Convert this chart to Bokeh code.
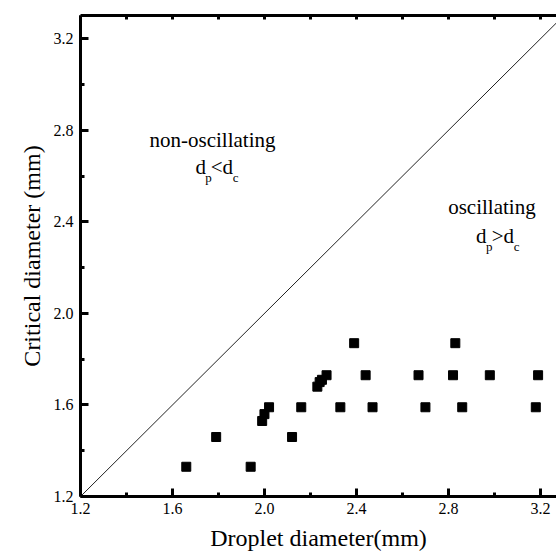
from bokeh.plotting import figure
from bokeh.models import LinearAxis, FixedTicker, Label, Range1d
from bokeh.embed import file_html
from bokeh.resources import INLINE

# data
droplet_d = [1.66, 1.79, 1.94, 1.99, 2.00, 2.02, 2.12, 2.16, 2.23, 2.24, 2.25, 2.27,
             2.33, 2.39, 2.44, 2.47, 2.67, 2.70, 2.82, 2.83, 2.86, 2.98, 3.18, 3.19]
critical_d = [1.33, 1.46, 1.33, 1.53, 1.56, 1.59, 1.46, 1.59, 1.68, 1.70, 1.71, 1.73,
              1.59, 1.87, 1.73, 1.59, 1.73, 1.59, 1.73, 1.87, 1.59, 1.73, 1.59, 1.73]
diag_x = [1.2, 3.3]
diag_y = [1.2, 3.3]
major_ticks = [1.2, 1.6, 2.0, 2.4, 2.8, 3.2]
minor_ticks = [1.4, 1.8, 2.2, 2.6, 3.0]
tick_labels = ["1.2", "1.6", "2.0", "2.4", "2.8", "3.2"]

FONT = "Liberation Serif"

p = figure(width=556, height=560, output_backend="svg", toolbar_location=None,
           x_range=Range1d(1.2, 3.27), y_range=Range1d(1.2, 3.302),
           min_border_left=80, min_border_right=0, min_border_top=15, min_border_bottom=64,
           background_fill_color="white", border_fill_color="white")
p.outline_line_color = None
p.xgrid.visible = False
p.ygrid.visible = False

p.line(diag_x, diag_y, line_color="#222222", line_width=1)
p.scatter(droplet_d, critical_d, marker="square", size=9, fill_color="black", line_color="black")

for ax in (p.xaxis[0], p.yaxis[0]):
    ax.ticker = FixedTicker(ticks=major_ticks, minor_ticks=minor_ticks)
    ax.major_label_overrides = {t: l for t, l in zip(major_ticks, tick_labels)}
    ax.axis_line_width = 3
    ax.major_tick_line_width = 3
    ax.minor_tick_line_width = 3
    ax.major_tick_in = 8
    ax.major_tick_out = 0
    ax.minor_tick_in = 4
    ax.minor_tick_out = 0
    ax.major_label_text_font = FONT
    ax.major_label_text_font_size = "16px"
    ax.major_label_text_color = "black"
    ax.axis_label_text_font = FONT
    ax.axis_label_text_font_size = "24px"
    ax.axis_label_text_font_style = "normal"
    ax.axis_label_text_color = "black"

p.xaxis[0].axis_label = "Droplet diameter(mm)"
p.xaxis[0].major_label_standoff = 6
p.xaxis[0].axis_label_standoff = 8
p.yaxis[0].axis_label = "Critical diameter (mm)"
p.yaxis[0].major_label_standoff = 7
p.yaxis[0].axis_label_standoff = 6

# top border: only minor ticks, so no (empty) tick labels are drawn
top = LinearAxis(ticker=FixedTicker(ticks=[], minor_ticks=major_ticks + minor_ticks),
                 axis_line_width=3, major_tick_line_width=3, major_tick_in=0, major_tick_out=0,
                 minor_tick_line_width=3, minor_tick_in=4, minor_tick_out=0,
                 major_label_standoff=0)
p.add_layout(top, "above")

def lab(x, y, text, size):
    p.add_layout(Label(x=x, y=y, text=text, text_font=FONT, text_font_size=size,
                       text_color="black", text_align="left", text_baseline="alphabetic"))

lab(1.50, 2.76, "non-oscillating", "21px")
lab(1.70, 2.642, "d", "21px")
lab(1.743, 2.594, "p", "13px")
lab(1.766, 2.642, "<d", "21px")
lab(1.862, 2.594, "c", "13px")

lab(2.799, 2.464, "oscillating", "21px")
lab(2.92, 2.340, "d", "21px")
lab(2.963, 2.292, "p", "13px")
lab(2.988, 2.340, ">d", "21px")
lab(3.084, 2.292, "c", "13px")

open("out.html", "w").write(file_html(p, INLINE))
